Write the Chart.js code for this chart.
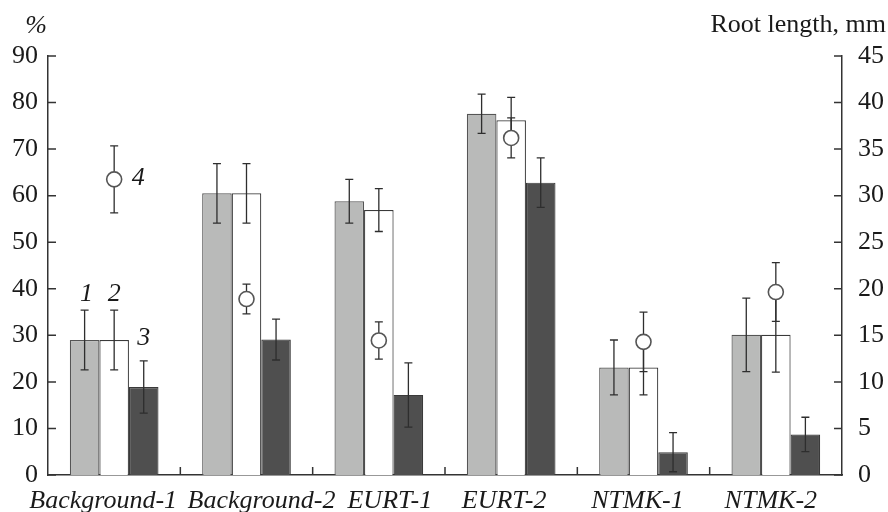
<!DOCTYPE html>
<html>
<head>
<meta charset="utf-8">
<script src="https://cdn.jsdelivr.net/npm/chart.js@4/dist/chart.umd.min.js"></script>
<style>
  html, body { margin: 0; padding: 0; background: #fff; }
  #wrap { width: 888px; height: 512px; }
</style>
</head>
<body>
<div id="wrap"><canvas id="grafico"></canvas></div>
<script>
// Datos
const categories = ['Background-1', 'Background-2', 'EURT-1', 'EURT-2', 'NTMK-1', 'NTMK-2'];
const serie1 = [29.0, 60.5, 58.8, 77.6, 23.1, 30.1];
const serie1Err = [6.4, 6.4, 4.7, 4.2, 5.9, 7.9];
const serie2 = [29.0, 60.5, 56.9, 76.2, 23.1, 30.1];
const serie2Err = [6.4, 6.4, 4.6, 4.9, 5.9, 8.0];
const serie3 = [18.9, 29.1, 17.2, 62.8, 4.9, 8.7];
const serie3Err = [5.6, 4.4, 6.9, 5.3, 4.2, 3.7];
const rootLength = [31.75, 18.9, 14.45, 36.2, 14.3, 19.65];
const rootLengthErr = [3.6, 1.6, 2.0, 2.15, 3.2, 3.15];
const leftTicks = { min: 0, max: 90, step: 10 };
const rightTicks = { min: 0, max: 45, step: 5 };
const tags = ['1', '2', '3', '4'];

const errores = [serie1Err, serie2Err, serie3Err, rootLengthErr];
const fuente = '"Liberation Serif", "DejaVu Serif", serif';
const labelShift = [-11, 15, 11, -7, -6, -5];

// Plugin para barras de error, marcas interiores y textos
const extras = {
    id: 'extras',
    beforeDatasetDraw(chart, args) {
        if (args.index !== 3) return;
        const ctx = chart.ctx;
        ctx.save();
        ctx.strokeStyle = '#2e2e2e';
        ctx.lineWidth = 1.3;
        errores.forEach((errs, d) => {
            const meta = chart.getDatasetMeta(d);
            const scale = chart.scales[meta.yAxisID];
            meta.data.forEach((el, i) => {
                const v = chart.data.datasets[d].data[i];
                const yHi = scale.getPixelForValue(v + errs[i]);
                const yLo = scale.getPixelForValue(v - errs[i]);
                const x = el.x;
                ctx.beginPath();
                ctx.moveTo(x, yHi); ctx.lineTo(x, yLo);
                ctx.moveTo(x - 4, yHi); ctx.lineTo(x + 4, yHi);
                ctx.moveTo(x - 4, yLo); ctx.lineTo(x + 4, yLo);
                ctx.stroke();
            });
        });
        ctx.restore();
    },
    afterDraw(chart) {
        const ctx = chart.ctx;
        const area = chart.chartArea;
        const x = chart.scales.x, y = chart.scales.y, y2 = chart.scales.y2;
        ctx.save();
        ctx.strokeStyle = '#333';
        ctx.lineWidth = 1.5;
        ctx.beginPath();
        y.ticks.forEach(t => {
            const py = y.getPixelForValue(t.value);
            ctx.moveTo(area.left, py); ctx.lineTo(area.left + 8, py);
        });
        y2.ticks.forEach(t => {
            const py = y2.getPixelForValue(t.value);
            ctx.moveTo(area.right, py); ctx.lineTo(area.right - 8, py);
        });
        for (let i = 0; i < categories.length - 1; i++) {
            const px = (x.getPixelForValue(i) + x.getPixelForValue(i + 1)) / 2;
            ctx.moveTo(px, area.bottom); ctx.lineTo(px, area.bottom - 8);
        }
        ctx.stroke();

        // Etiquetas de categorías
        ctx.fillStyle = '#1a1a1a';
        ctx.font = 'italic 26px ' + fuente;
        ctx.textAlign = 'center';
        ctx.textBaseline = 'alphabetic';
        categories.forEach((c, i) => {
            ctx.fillText(c, x.getPixelForValue(i) + labelShift[i], area.bottom + 33);
        });

        // Títulos de ejes
        ctx.fillText('%', area.left - 12, area.top - 23);
        ctx.font = '26px ' + fuente;
        ctx.textAlign = 'right';
        ctx.fillText('Root length, mm', 886, area.top - 24);

        // Números de las series
        ctx.font = 'italic 26px ' + fuente;
        ctx.textAlign = 'center';
        const gaps = [9, 9, 16];
        for (let d = 0; d < 3; d++) {
            const el = chart.getDatasetMeta(d).data[0];
            const v = chart.data.datasets[d].data[0];
            const top = y.getPixelForValue(v + errores[d][0]);
            ctx.fillText(tags[d], el.x + (d === 0 ? 2 : 0), top - gaps[d]);
        }
        const pt = chart.getDatasetMeta(3).data[0];
        ctx.textBaseline = 'middle';
        ctx.fillText(tags[3], pt.x + 24, pt.y - 1);
        ctx.restore();
    }
};

document.addEventListener('DOMContentLoaded', function() {
    const barra = (data, fill, border) => ({
        type: 'bar', data: data, yAxisID: 'y', order: 1,
        backgroundColor: fill, borderColor: border, borderWidth: 1.2,
        barPercentage: 1.0, categoryPercentage: 0.67
    });
    new Chart(document.getElementById('grafico'), {
        data: {
            labels: categories,
            datasets: [
                barra(serie1, '#b9bab9', '#555'),
                barra(serie2, '#ffffff', '#3a3a3a'),
                barra(serie3, '#4f4f4f', '#3a3a3a'),
                {
                    type: 'line', data: rootLength, yAxisID: 'y2', order: 0,
                    showLine: false, pointRadius: 7.5, pointStyle: 'circle',
                    pointBackgroundColor: '#fff', pointBorderColor: '#555', pointBorderWidth: 1.6
                }
            ]
        },
        options: {
            responsive: true,
            maintainAspectRatio: false,
            animation: false,
            layout: { padding: { top: 56, left: 0, right: 0, bottom: 0 } },
            plugins: { legend: { display: false }, tooltip: { enabled: false } },
            scales: {
                x: {
                    type: 'category', offset: true,
                    grid: { display: false, drawTicks: false },
                    border: { color: '#333', width: 1.5 },
                    ticks: { display: false },
                    afterFit: s => { s.height = 37; }
                },
                y: {
                    position: 'left', min: leftTicks.min, max: leftTicks.max,
                    grid: { display: false, drawTicks: false },
                    border: { color: '#333', width: 1.5 },
                    ticks: { stepSize: leftTicks.step, padding: 10, color: '#1a1a1a', font: { family: fuente, size: 26 } },
                    afterFit: s => { s.width = 48; }
                },
                y2: {
                    position: 'right', min: rightTicks.min, max: rightTicks.max,
                    grid: { display: false, drawTicks: false },
                    border: { color: '#333', width: 1.5 },
                    ticks: { stepSize: rightTicks.step, padding: 16, color: '#1a1a1a', font: { family: fuente, size: 26 } },
                    afterFit: s => { s.width = 46; }
                }
            }
        },
        plugins: [extras]
    });
});
</script>
</body>
</html>
